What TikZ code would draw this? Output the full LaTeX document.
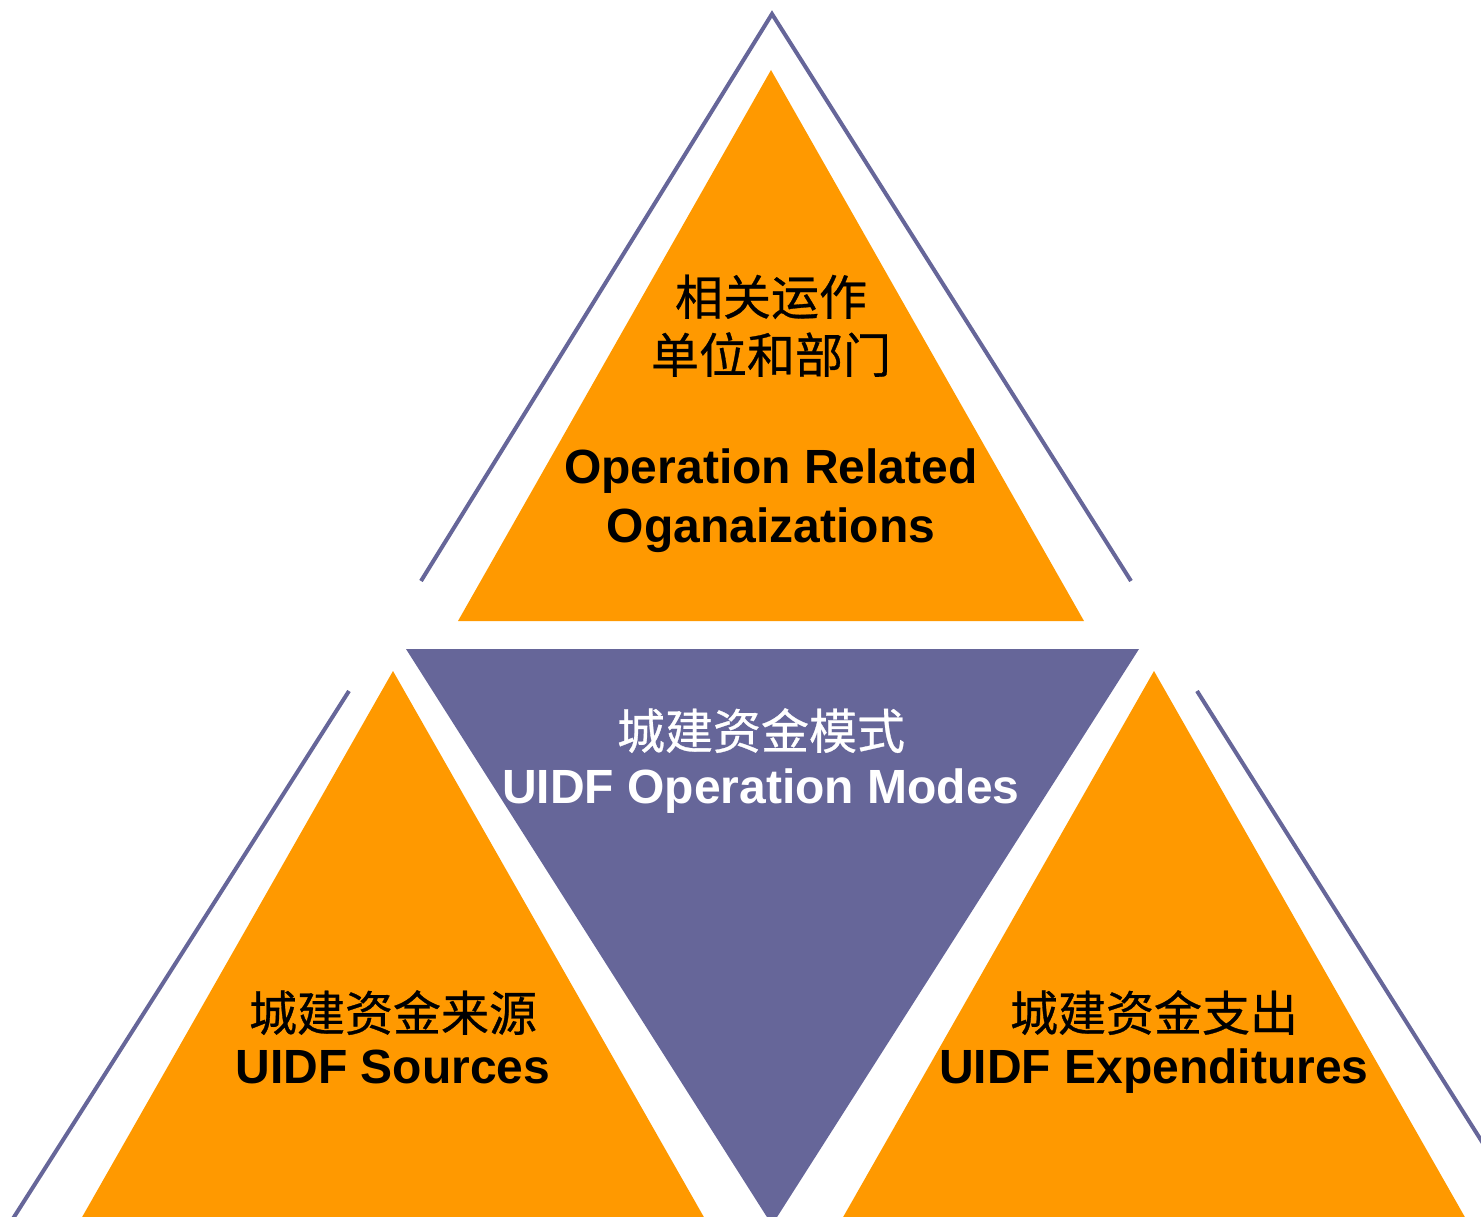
\documentclass[tikz,border=0pt]{standalone}
\usepackage{fontspec}
\setmainfont{Liberation Sans}
\newfontfamily\cjk[FakeBold=0.6]{Noto Sans CJK SC}
\definecolor{triorange}{RGB}{255,153,0}
\definecolor{tripurple}{RGB}{102,102,153}
\begin{document}
\begin{tikzpicture}[x=1pt,y=-1pt,
  outline/.style={draw=tripurple,line width=4pt},
  cjklbl/.style={anchor=base,inner sep=0pt,font=\fontsize{48}{57}\selectfont\cjk},
  englbl/.style={anchor=base,inner sep=0pt,font=\fontsize{48}{57}\selectfont\bfseries}]
\useasboundingbox (0,0) rectangle (1481,1217);
\begin{scope}
\clip (0,0) rectangle (1481,1217);
% outlines
\coordinate (tl) at (421,581);
\coordinate (tt) at (772,14);
\coordinate (tr) at (1131,581);
\draw[outline] (tl) -- (tt) -- (tr);
\coordinate (ls) at (349,691);
\coordinate (le) at (0,1239);
\draw[outline] (ls) -- (le);
\coordinate (rs) at (1197,691);
\coordinate (re) at (1510,1186);
\draw[outline] (rs) -- (re);
% triangles
\fill[triorange] (771,70) -- (1084,621) -- (458,621) -- cycle;
\fill[tripurple] (406,649) -- (1139,649) -- (772,1225) -- cycle;
\fill[triorange] (393,671) -- (705,1219) -- (81,1219) -- cycle;
\fill[triorange] (1154,671) -- (1466,1219) -- (842,1219) -- cycle;
\end{scope}
% labels
\node[cjklbl] (t1) at (771,315) {相关运作};
\node[cjklbl] (t2) at (771,373) {单位和部门};
\node[englbl] (t3) at (771,483) {Operation Related};
\node[englbl] (t4) at (771,542) {Oganaizations};
\node[cjklbl,text=white] (m1) at (761,749) {城建资金模式};
\node[englbl,text=white] (m2) at (761,803) {UIDF Operation Modes};
\node[cjklbl] (l1) at (393,1031) {城建资金来源};
\node[englbl] (l2) at (393,1083) {UIDF Sources};
\node[cjklbl] (r1) at (1154,1031) {城建资金支出};
\node[englbl] (r2) at (1154,1083) {UIDF Expenditures};
\end{tikzpicture}
\end{document}
